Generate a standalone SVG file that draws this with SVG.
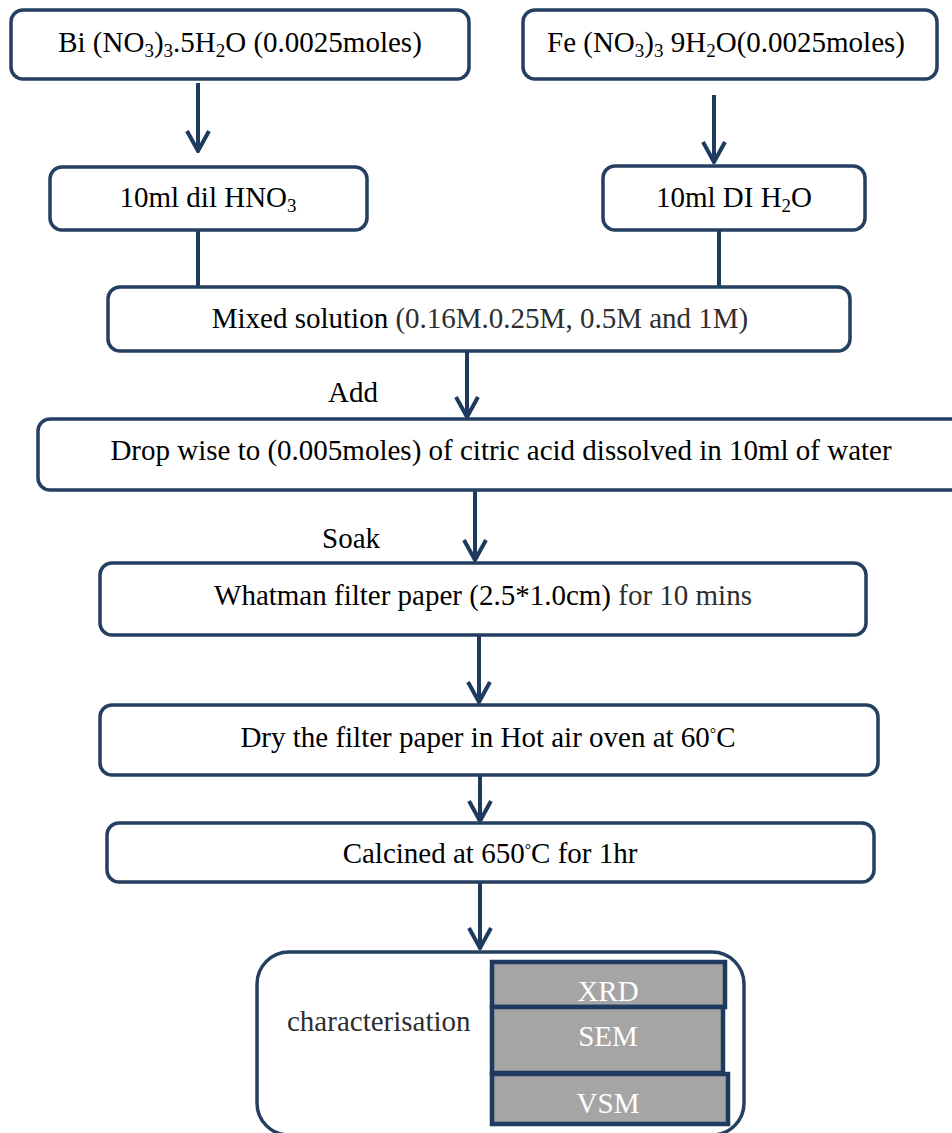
<svg xmlns="http://www.w3.org/2000/svg" width="952" height="1133" viewBox="0 0 952 1133">
<defs>
<marker id="chev" markerUnits="userSpaceOnUse" viewBox="-24 -14 26 28" markerWidth="26" markerHeight="28" refX="0" refY="0" orient="auto">
<path d="M-20,-11 L0,0 L-20,11" fill="none" stroke="#1f3a5f" stroke-width="4" stroke-linejoin="miter"/>
</marker>
<style>
.box{fill:#fff;stroke:#243f60;stroke-width:3.5}
.t{font-family:"Liberation Serif","Times New Roman",serif;font-size:29px;fill:#000}
.s{font-size:19px}
.g{fill:#2e2e2e}
.c{text-anchor:middle}
.ln{stroke:#1f3a5f;stroke-width:4;fill:none}
.gray{fill:#a5a5a5;stroke:#1f3a5f;stroke-width:4.5}
.w{fill:#fff}
</style>
</defs>
<rect width="952" height="1133" fill="#fff"/>
<g id="connectors">
<line class="ln" x1="198" y1="83" x2="198" y2="151" marker-end="url(#chev)"/>
<line class="ln" x1="714" y1="95" x2="714" y2="162" marker-end="url(#chev)"/>
<line class="ln" x1="198" y1="230" x2="198" y2="287"/>
<line class="ln" x1="719" y1="230" x2="719" y2="287"/>
<line class="ln" x1="467" y1="351" x2="467" y2="417" marker-end="url(#chev)"/>
<line class="ln" x1="475" y1="490" x2="475" y2="560" marker-end="url(#chev)"/>
<line class="ln" x1="479" y1="635" x2="479" y2="702" marker-end="url(#chev)"/>
<line class="ln" x1="480" y1="775" x2="480" y2="821" marker-end="url(#chev)"/>
<line class="ln" x1="480" y1="882" x2="480" y2="948" marker-end="url(#chev)"/>
<text class="t" x="328" y="402">Add</text>
<text class="t" x="322" y="548">Soak</text>
</g>
<g id="bi">
<rect class="box" x="11" y="10" width="458" height="69" rx="12"/>
<text class="t c" x="240" y="52">Bi (NO<tspan class="s" baseline-shift="-5">3</tspan>)<tspan class="s" baseline-shift="-5">3</tspan>.5H<tspan class="s" baseline-shift="-5">2</tspan>O (0.0025moles)</text>
</g>
<g id="fe">
<rect class="box" x="523" y="10" width="414" height="69" rx="12"/>
<text class="t c" x="726" y="52">Fe (NO<tspan class="s" baseline-shift="-5">3</tspan>)<tspan class="s" baseline-shift="-5">3</tspan> 9H<tspan class="s" baseline-shift="-5">2</tspan>O(0.0025moles)</text>
</g>
<g id="hno3">
<rect class="box" x="50" y="167" width="317" height="63" rx="12"/>
<text class="t c" x="208" y="207">10ml dil HNO<tspan class="s" baseline-shift="-5">3</tspan></text>
</g>
<g id="di">
<rect class="box" x="603" y="166" width="262" height="64" rx="12"/>
<text class="t c" x="734" y="207">10ml DI H<tspan class="s" baseline-shift="-5">2</tspan>O</text>
</g>
<g id="mixed">
<rect class="box" x="108" y="287" width="742" height="64" rx="12"/>
<text class="t c" x="480" y="328">Mixed solution <tspan class="g">(0.16M.0.25M, 0.5M and 1M)</tspan></text>
</g>
<g id="drop">
<rect class="box" x="38" y="419" width="940" height="71" rx="12"/>
<text class="t c" x="501" y="460">Drop wise to (0.005moles) of citric acid dissolved in 10ml of water</text>
</g>
<g id="whatman">
<rect class="box" x="100" y="563" width="766" height="72" rx="12"/>
<text class="t c" x="483" y="605">Whatman filter paper (2.5*1.0cm) <tspan class="g">for 10 mins</tspan></text>
</g>
<g id="dry">
<rect class="box" x="100" y="705" width="778" height="70" rx="12"/>
<text class="t c" x="488" y="747">Dry the filter paper in Hot air oven at 60<tspan font-size="16" baseline-shift="super">°</tspan>C</text>
</g>
<g id="calcined">
<rect class="box" x="107" y="823" width="767" height="59" rx="12"/>
<text class="t c" x="490" y="863">Calcined at 650<tspan font-size="16" baseline-shift="super">°</tspan>C for 1hr</text>
</g>
<g id="characterisation">
<rect class="box" x="257" y="952" width="487" height="183" rx="32"/>
<text class="t g" x="287" y="1031">characterisation</text>
<g id="xrd">
<rect class="gray" x="492" y="962" width="233" height="45"/>
<text class="t c w" x="608" y="1001">XRD</text>
</g>
<g id="sem">
<rect class="gray" x="492" y="1007" width="231" height="66"/>
<text class="t c w" x="608" y="1046">SEM</text>
</g>
<g id="vsm">
<rect class="gray" x="492" y="1074" width="236" height="50"/>
<text class="t c w" x="608" y="1113">VSM</text>
</g>
</g>
</svg>
